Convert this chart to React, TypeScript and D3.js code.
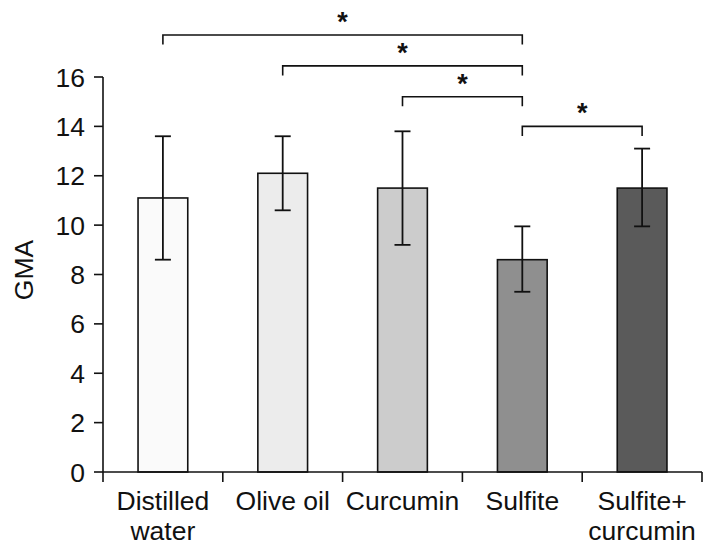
import React from "react";
import * as d3 from "d3";

const categories = ["Distilled water", "Olive oil", "Curcumin", "Sulfite", "Sulfite+ curcumin"];
const labelLines = [["Distilled", "water"], ["Olive oil"], ["Curcumin"], ["Sulfite"], ["Sulfite+", "curcumin"]];
const means = [11.1, 12.1, 11.5, 8.6, 11.5];
const errHigh = [13.6, 13.6, 13.8, 9.95, 13.1];
const errLow = [8.6, 10.6, 9.2, 7.3, 9.95];
const fills = ["#fafafa", "#ececec", "#cccccc", "#8f8f8f", "#5a5a5a"];
const yTicks = [0, 2, 4, 6, 8, 10, 12, 14, 16];
// significance brackets: [from index, to index, level (data units)]
const brackets: [number, number, number][] = [
  [0, 3, 17.7],
  [1, 3, 16.45],
  [2, 3, 15.2],
  [3, 4, 14.0],
];

export default function App() {
  const W = 719, H = 558;
  const left = 103, right = 702, top = 77, bottom = 472;
  const x = d3.scaleBand<string>().domain(categories).range([left, right]).paddingInner(0).paddingOuter(0);
  const y = d3.scaleLinear().domain([0, 16]).range([bottom, top]);
  const bw = x.bandwidth() * 0.415;
  const font = "'Liberation Sans', Arial, sans-serif";
  const cx = (i: number) => (x(categories[i]) as number) + x.bandwidth() / 2;
  const capW = 8;
  const tickDrop = 9.5;
  const fs = 26.5;

  return (
    <svg width={W} height={H} style={{ position: "absolute", left: 0, top: 0 }} fontFamily={font}>
      <rect width={W} height={H} fill="#fff" />
      {/* bars */}
      {categories.map((c, i) => (
        <rect key={c} x={cx(i) - bw / 2} y={y(means[i])} width={bw} height={bottom - y(means[i])}
          fill={fills[i]} stroke="#111" strokeWidth={1.6} />
      ))}
      {/* error bars */}
      {categories.map((c, i) => (
        <g key={"e" + c} stroke="#111" strokeWidth={1.8}>
          <line x1={cx(i)} x2={cx(i)} y1={y(errHigh[i])} y2={y(errLow[i])} />
          <line x1={cx(i) - capW} x2={cx(i) + capW} y1={y(errHigh[i])} y2={y(errHigh[i])} />
          <line x1={cx(i) - capW} x2={cx(i) + capW} y1={y(errLow[i])} y2={y(errLow[i])} />
        </g>
      ))}
      {/* y axis */}
      <line x1={left} x2={left} y1={top} y2={bottom} stroke="#111" strokeWidth={1.6} />
      {yTicks.map((t) => (
        <g key={t}>
          <line x1={left - 9} x2={left} y1={y(t)} y2={y(t)} stroke="#111" strokeWidth={1.6} />
          <text x={left - 18} y={y(t)} dy="0.36em" textAnchor="end" fontSize={fs} fill="#111">{t}</text>
        </g>
      ))}
      {/* x axis */}
      <line x1={left} x2={right} y1={bottom} y2={bottom} stroke="#111" strokeWidth={1.6} />
      {[...categories.map((c) => x(c) as number), right].map((px, i) => (
        <line key={"xt" + i} x1={px} x2={px} y1={bottom} y2={bottom + 10} stroke="#111" strokeWidth={1.6} />
      ))}
      {labelLines.map((lines, i) => (
        <text key={"xl" + i} x={cx(i)} y={510} textAnchor="middle" fontSize={fs} fill="#111">
          {lines.map((l, j) => (
            <tspan key={j} x={cx(i)} dy={j === 0 ? 0 : 30}>{l}</tspan>
          ))}
        </text>
      ))}
      {/* y label */}
      <text transform={`translate(33,270) rotate(-90)`} textAnchor="middle" fontSize={fs} fill="#111">GMA</text>
      {/* significance brackets */}
      {brackets.map(([a, b, lvl], k) => {
        const yy = y(lvl);
        return (
          <g key={"b" + k}>
            <path d={`M${cx(a)},${yy + tickDrop}V${yy}H${cx(b)}V${yy + tickDrop}`} fill="none" stroke="#111" strokeWidth={1.6} />
            <text x={(cx(a) + cx(b)) / 2} y={yy - 4} textAnchor="middle" fontSize={27} fontWeight="bold" fill="#111">*</text>
          </g>
        );
      })}
    </svg>
  );
}
